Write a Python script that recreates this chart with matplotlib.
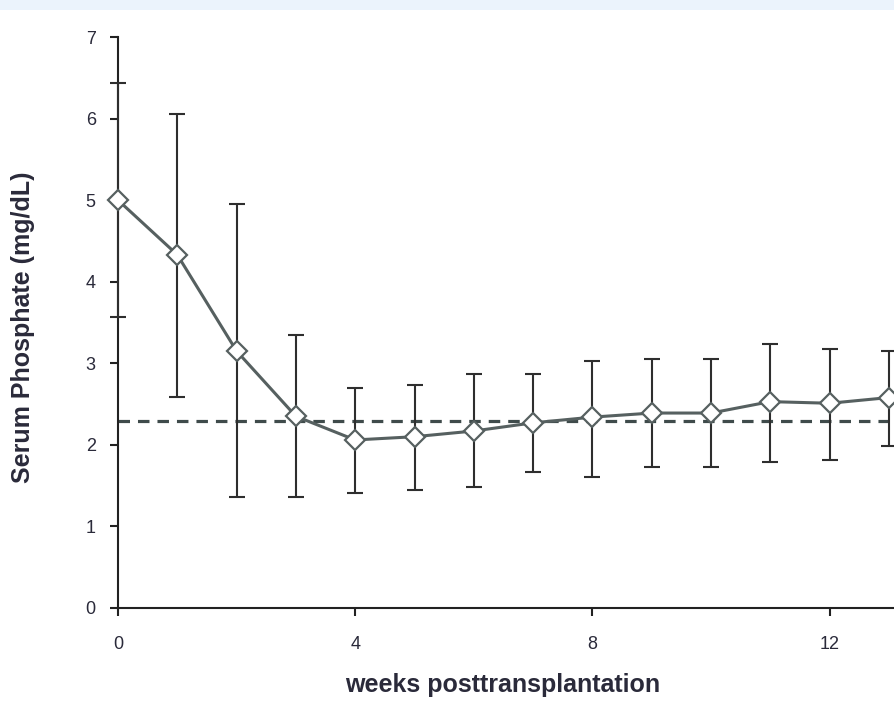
import matplotlib
matplotlib.use("Agg")
import matplotlib.pyplot as plt
from matplotlib.patches import Rectangle

plt.rcParams['font.family'] = ['Liberation Sans', 'DejaVu Sans']

weeks = [0, 1, 2, 3, 4, 5, 6, 7, 8, 9, 10, 11, 12, 13]
mean_phos = [5.00, 4.33, 3.15, 2.35, 2.06, 2.10, 2.17, 2.27, 2.34, 2.39, 2.39, 2.53, 2.51, 2.58]
upper_err = [6.43, 6.05, 4.95, 3.35, 2.70, 2.73, 2.87, 2.87, 3.03, 3.05, 3.05, 3.24, 3.17, 3.15]
lower_err = [3.57, 2.59, 1.36, 1.36, 1.41, 1.45, 1.48, 1.67, 1.61, 1.73, 1.73, 1.79, 1.82, 1.98]
reference_level = 2.29
x_ticks = [0, 4, 8, 12]
y_ticks = [0, 1, 2, 3, 4, 5, 6, 7]

fig = plt.figure(figsize=(8.94, 7.02), dpi=100)
fig.patches.append(Rectangle((0, 1 - 10/702), 1, 10/702, transform=fig.transFigure,
                             facecolor='#ebf3fc', edgecolor='none', zorder=0))

ax = fig.add_axes([118/894, 94/702, (894-118)/894, (608-37)/702])
ax.set_xlim(0, 776/59.3)
ax.set_ylim(0, 7)

yerr = [[m - l for m, l in zip(mean_phos, lower_err)],
        [u - m for m, u in zip(mean_phos, upper_err)]]

ax.axhline(reference_level, color='#3f4b4b', lw=2.3, dashes=(3.6, 2.5), zorder=2)
ax.errorbar(weeks, mean_phos, yerr=yerr, fmt='none', ecolor='#2e2e2e',
            elinewidth=1.5, capsize=6, capthick=1.5, zorder=3, clip_on=False)
ax.plot(weeks, mean_phos, color='#566060', lw=2.2, zorder=4, clip_on=False)
ax.plot(weeks, mean_phos, linestyle='none', marker='D', markersize=10,
        markerfacecolor='white', markeredgecolor='#566060', markeredgewidth=1.6,
        zorder=5, clip_on=False)

for s in ['top', 'right']:
    ax.spines[s].set_visible(False)
for s in ['left', 'bottom']:
    ax.spines[s].set_color('#222222')
    ax.spines[s].set_linewidth(1.5)

ax.set_xticks(x_ticks)
ax.set_yticks(y_ticks)
ax.tick_params(axis='both', direction='out', colors='#222222', width=1.5,
               labelsize=13, labelcolor='#2a2a3a')
ax.tick_params(axis='y', length=6, pad=10)
ax.tick_params(axis='x', length=6, pad=14)

ax.set_ylabel('Serum Phosphate (mg/dL)', fontsize=18, fontweight='bold',
              color='#2a2a3a')
ax.set_xlabel('weeks posttransplantation', fontsize=18, fontweight='bold',
              color='#2a2a3a')
ax.xaxis.set_label_coords((503-118)/776, -(673-608)/571)
ax.yaxis.set_label_coords(-(118-35)/776, (608-327)/571)

fig.savefig('out.png', dpi=100)
